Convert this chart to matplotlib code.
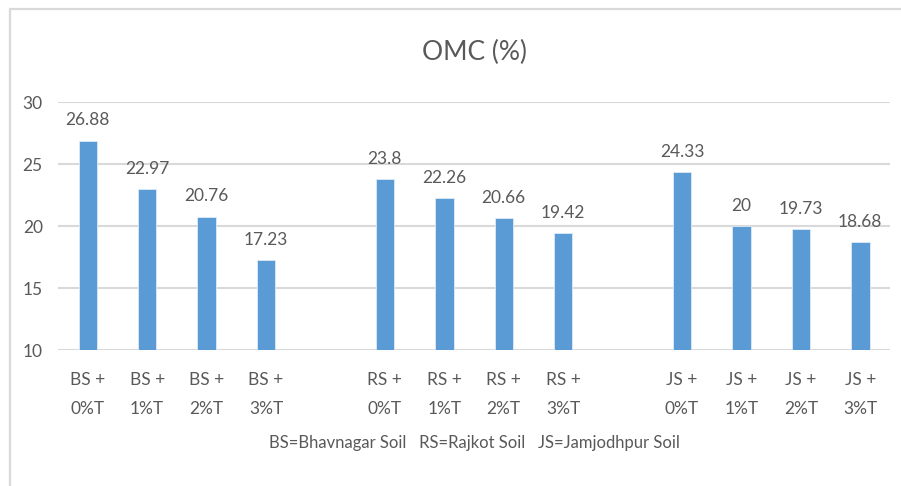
import numpy as np
import matplotlib.pyplot as plt
from matplotlib.patches import Rectangle

# data
soils = ['BS', 'RS', 'JS']
treatments = ['0%T', '1%T', '2%T', '3%T']
bs_omc = [26.88, 22.97, 20.76, 17.23]
rs_omc = [23.8, 22.26, 20.66, 19.42]
js_omc = [24.33, 20, 19.73, 18.68]
note = 'BS=Bhavnagar Soil   RS=Rajkot Soil   JS=Jamjodhpur Soil'

plt.rcParams['font.family'] = ['Lato', 'DejaVu Sans']
text_col = '#595959'
grid_col = '#D9D9D9'
bar_col = '#5B9BD5'

fig = plt.figure(figsize=(9.01, 4.86), dpi=100)
ax = fig.add_axes([0.0644, 0.2798, 0.9234, 0.5103])

# chart border (cut off at right and bottom like the screenshot)
fig.patches.append(Rectangle((10 / 901, -0.1), 1.1, 1 - 9 / 486 + 0.1,
                             transform=fig.transFigure, fill=False,
                             edgecolor=grid_col, linewidth=1.6))

# one empty slot between soil groups
xs, labels, vals = [], [], []
for i, (soil, series) in enumerate(zip(soils, [bs_omc, rs_omc, js_omc])):
    for j, (t, v) in enumerate(zip(treatments, series)):
        xs.append(i * 5 + j)
        labels.append(soil + ' +\n' + t)
        vals.append(v)

bars = ax.bar(xs, vals, width=0.31, color=bar_col, edgecolor='#DEEBF7',
              linewidth=0.6, zorder=3)
for x, v in zip(xs, vals):
    ax.annotate(f'{v:g}', (x, v), xytext=(0, 11), textcoords='offset points',
                ha='center', va='baseline', fontsize=12.5, color=text_col)

ax.set_xlim(-0.5, 13.5)
ax.set_ylim(10, 30)
ax.set_yticks([10, 15, 20, 25, 30])
ax.grid(axis='y', color=grid_col, linewidth=1.5, zorder=0)
ax.set_xticks(xs)
ax.set_xticklabels(labels, linespacing=2.0)
ax.tick_params(axis='both', length=0, labelsize=12.5, labelcolor=text_col)
ax.tick_params(axis='x', pad=16)
ax.tick_params(axis='y', pad=11)
for s in ax.spines.values():
    s.set_visible(False)

ax.set_title('OMC (%)', fontsize=19, color=text_col, pad=30)
fig.text(0.5263, 1 - 443 / 486, note, ha='center', va='center',
         fontsize=12, color=text_col)

fig.savefig('out.png', dpi=100)
